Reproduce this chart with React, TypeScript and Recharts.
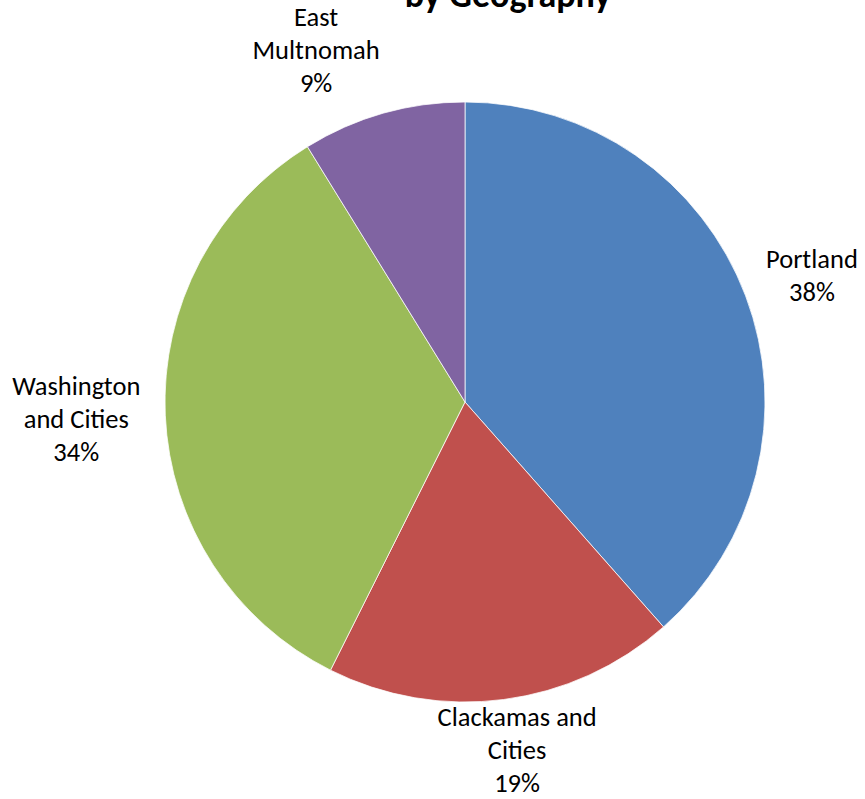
import React from "react";
import { PieChart, Pie, Cell } from "recharts";

const categories = ["Portland", "Clackamas and Cities", "Washington and Cities", "East Multnomah"];
const labelLines = [["Portland"], ["Clackamas and", "Cities"], ["Washington", "and Cities"], ["East", "Multnomah"]];
const shares = [38.49, 18.91, 33.8, 8.8];
const colors = ["#4F81BD", "#C0504D", "#9BBB59", "#8064A2"];
const titleText = "by Geography";

const data = categories.map((name, i) => ({ name, value: shares[i] }));

const W = 865;
const H = 799;
const FONT = "Carlito, Calibri, Lato, sans-serif";
const FS = 26.5;
const LH = 33;
const TITLE_FS = 36;
const TITLE_X = 508;
const TITLE_Y = 7;

let ctx: CanvasRenderingContext2D | null = null;
function measure(text: string, size: number, weight = "normal") {
  if (!ctx && typeof document !== "undefined") {
    ctx = document.createElement("canvas").getContext("2d");
  }
  if (!ctx) return text.length * size * 0.5;
  ctx.font = `${weight} ${size}px ${FONT}`;
  return ctx.measureText(text).width;
}

const titleW = measure(titleText, TITLE_FS, "bold");
const titleBox = { x0: TITLE_X - titleW / 2, x1: TITLE_X + titleW / 2, y0: 0, y1: TITLE_Y + 8 };

const RADIAN = Math.PI / 180;

const renderLabel = (props: any) => {
  const { cx, cy, midAngle, outerRadius, percent, index } = props;
  const lines = [...labelLines[index], `${Math.round(percent * 100)}%`];
  const w = Math.max(...lines.map((l) => measure(l, FS)));
  const h = lines.length * LH;
  const a = w / 2;
  const b = h / 2;
  const c = Math.cos(-midAngle * RADIAN);
  const s = Math.sin(-midAngle * RADIAN);
  const gap = 25;
  let x = cx + (outerRadius + gap) * c + a * c;
  let y = cy + (outerRadius + gap) * s + b * s;
  // clamp into chart area
  if (y - b < 0) y = b;
  if (y + b > H) y = H - b;
  if (x - a < 0) x = a;
  if (x + a > W) x = W - a;
  // avoid title
  if (y - b < titleBox.y1 && x + a > titleBox.x0 && x - a < titleBox.x1) {
    if (x < TITLE_X) x = titleBox.x0 - 25 - a;
    else x = titleBox.x1 + 25 + a;
  }
  const top = y - b;
  return (
    <text
      key={`lbl-${index}`}
      x={x}
      textAnchor="middle"
      fontFamily={FONT}
      fontSize={FS}
      fill="#000"
    >
      {lines.map((l, i) => (
        <tspan key={i} x={x} y={top + LH * i + LH * 0.78}>
          {l}
        </tspan>
      ))}
    </text>
  );
};

export default function App() {
  return (
    <div style={{ position: "absolute", left: 0, top: 0, width: W, height: H, background: "#fff" }}>
      <PieChart width={W} height={H} margin={{ top: 0, right: 0, bottom: 0, left: 0 }}>
        <Pie
          data={data}
          dataKey="value"
          nameKey="name"
          cx={465}
          cy={402}
          outerRadius={300}
          startAngle={90}
          endAngle={-270}
          stroke="#ffffff"
          strokeWidth={0.75}
          label={renderLabel}
          labelLine={false}
          isAnimationActive={false}
        >
          {data.map((d, i) => (
            <Cell key={d.name} fill={colors[i]} />
          ))}
        </Pie>
        <text
          x={TITLE_X}
          y={TITLE_Y}
          textAnchor="middle"
          fontFamily={FONT}
          fontWeight="bold"
          fontSize={TITLE_FS}
          fill="#000"
        >
          {titleText}
        </text>
      </PieChart>
    </div>
  );
}
